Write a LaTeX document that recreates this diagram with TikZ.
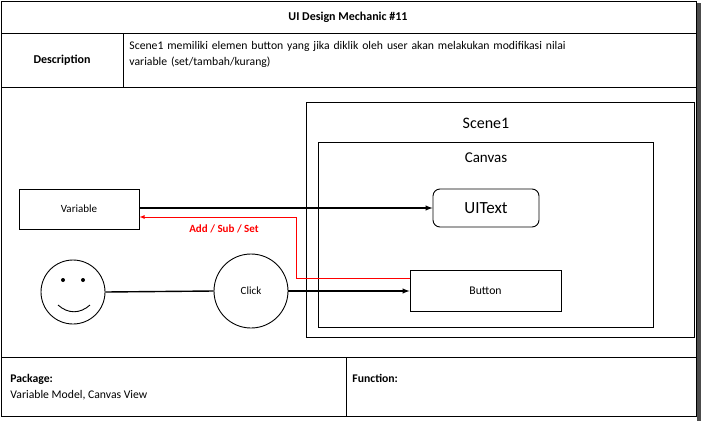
\documentclass[tikz,border=0pt]{standalone}
\usepackage{fontspec}
\setmainfont{Carlito}
\begin{document}
\begin{tikzpicture}[x=1pt,y=-1pt,line width=0.9pt,
 bx/.style={draw,inner sep=0pt},
 arr/.style={line width=1.4pt,-latex},
 txt/.style={font=\fontsize{11.7}{16}\selectfont}]
\useasboundingbox (0,0) rectangle (701,421);
\fill[white] (0,0) rectangle (701,421);
\fill[black!70] (697,3) rectangle (701,421);
\draw (1,1) rectangle (696,416);
\draw (1,33) -- (696,33) (1,87) -- (696,87) (1,357) -- (696,357);
\draw (123,33) -- (123,87) (346,357) -- (346,416);
\node[font=\fontsize{12}{15}\selectfont\bfseries] (title) at (348,17) {UI Design Mechanic \#11};
\node[font=\fontsize{12}{15}\selectfont\bfseries] (desc) at (62,60) {Description};
\node[txt,anchor=north west,text width=445pt,align=left,inner sep=0pt] (desctext) at (129,41) {Scene1 memiliki elemen button yang jika diklik oleh user akan melakukan modifikasi nilai variable (set/tambah/kurang)};
\node[txt,anchor=north west,align=left,inner sep=0pt] (pkg) at (10,374) {\textbf{Package:}\\Variable Model, Canvas View};
\node[anchor=north west,inner sep=0pt,font=\fontsize{11.7}{15}\selectfont\bfseries] (fn) at (352,374) {Function:};
\draw (306,102) rectangle (694,337);
\node[font=\fontsize{16}{19}\selectfont] (scene) at (486,123) {Scene1};
\draw (318,142) rectangle (653,327);
\node[font=\fontsize{15}{18}\selectfont] (canvas) at (486,158) {Canvas};
\node[bx,rounded corners=7pt,minimum width=106pt,minimum height=38pt,font=\fontsize{17}{20}\selectfont] (ui) at (486,208) {UIText};
\node[bx,minimum width=151pt,minimum height=41pt,txt] (btn) at (485.5,290.5) {Button};
\node[bx,minimum width=120pt,minimum height=40pt,font=\fontsize{11}{13}\selectfont] (var) at (79,209) {Variable};
\node[bx,circle,minimum size=64pt] (face) at (73,292) {};
\fill (63,280) circle (2);
\fill (83,280) circle (2);
\draw (58,305) .. controls (68,314) and (80,314) .. (90,305);
\node[bx,circle,minimum size=74pt,font=\fontsize{11}{13}\selectfont] (click) at (251,291) {Click};
\draw[arr] (var.east |- 0,208) -- (ui.west);
\draw[line width=1.4pt] (face.east) -- (click.west);
\draw[arr] (click.east) -- (btn.west |- click.east);
\draw[red,line width=0.8pt,-latex] (btn.west |- 0,278) -- (296,278) -- (296,217) -- (var.east |- 0,217);
\node[red,font=\fontsize{11}{13}\selectfont\bfseries] (lbl) at (224,229) {Add / Sub / Set};
\end{tikzpicture}
\end{document}
